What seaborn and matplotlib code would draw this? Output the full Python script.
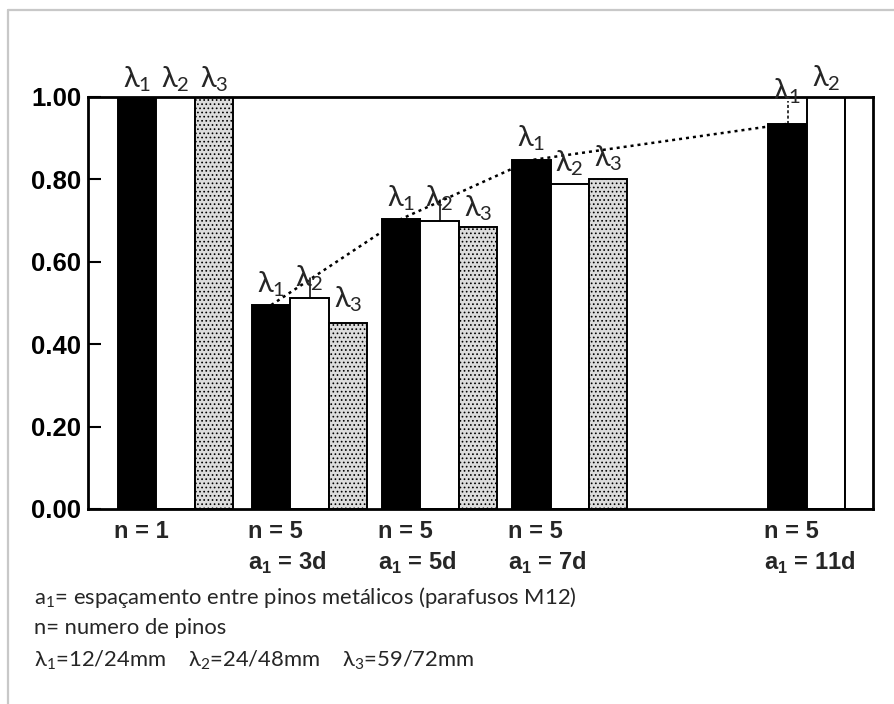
import numpy as np
import pandas as pd
import matplotlib
matplotlib.use("Agg")
import matplotlib.pyplot as plt
import seaborn as sns
from matplotlib.lines import Line2D

# ---------------- data ----------------
lambdas = ["λ1", "λ2", "λ3"]
lam1 = [1.00, 0.495, 0.704, 0.847, 0.935]
lam2 = [1.00, 0.512, 0.699, 0.789, 1.00]
lam3 = [1.00, 0.451, 0.684, 0.801, 1.00]
group_n = ["n = 1", "n = 5", "n = 5", "n = 5", "n = 5"]
group_a = ["", "3d", "5d", "7d", "11d"]
yticks = [0.0, 0.2, 0.4, 0.6, 0.8, 1.0]
ytick_labels = ["0.00", "0.20", "0.40", "0.60", "0.80", "1.00"]
legend_lines = [
    r"a$_\mathregular{1}$= espaçamento entre pinos metálicos (parafusos M12)",
    "n= numero de pinos",
    r"λ$_\mathregular{1}$=12/24mm    λ$_\mathregular{2}$=24/48mm    λ$_\mathregular{3}$=59/72mm",
]

# ---------------- layout ----------------
group_pos = [0.0, 1.03, 2.03, 3.03, 5.0]
label_show = [[1, 1, 1], [1, 1, 1], [1, 1, 1], [1, 1, 1], [1, 1, 0]]
label_off = [[3, 3, 3], [6, 5, 9], [6, 8, 4], [7, 6, 6], [18, 4, 0]]  # pixels

sns.set_theme(style="white")
plt.rcParams["mathtext.fontset"] = "custom"
plt.rcParams["mathtext.rm"] = "Lato"
plt.rcParams["hatch.linewidth"] = 0.7

W, H = 895, 704
fig = plt.figure(figsize=(W / 100, H / 100), dpi=100)
fig.patch.set_facecolor("white")
ax = fig.add_axes([88 / W, 1 - 509 / H, (873 - 88) / W, (509 - 97) / H])

df = pd.DataFrame({
    "pos": np.repeat(group_pos, 3),
    "lam": lambdas * len(group_pos),
    "val": np.ravel(np.column_stack([lam1, lam2, lam3])),
})
sns.barplot(data=df, x="pos", y="val", hue="lam", native_scale=True,
            width=0.885, gap=0, palette=["black", "white", "#dcdcdc"],
            edgecolor="black", linewidth=1.4, errorbar=None, legend=False,
            saturation=1, ax=ax)

for g, p in enumerate(ax.containers[2]):
    if g == 4:
        p.set_facecolor("white")  # last bar appears blank in the scan
    else:
        p.set_hatch("....")

ax.set_xlim(-0.673, 5.361)
ax.set_ylim(0, 1.0)
ax.set_xticks([])
ax.set_xlabel("")
ax.set_ylabel("")
ax.set_yticks(yticks)
ax.set_yticklabels(ytick_labels, fontsize=18.5, fontweight="bold",
                   family="Liberation Sans")
ax.tick_params(axis="y", direction="in", length=9, width=1.5, pad=5,
               left=True, colors="black")
for s in ax.spines.values():
    s.set_linewidth(2)
    s.set_color("black")

# lambda labels over bars
for h, cont in enumerate(ax.containers[:3]):
    for g, p in enumerate(cont):
        if not label_show[g][h]:
            continue
        xc = p.get_x() + p.get_width() / 2
        yt = p.get_height()
        ax.annotate(r"λ$_\mathregular{%d}$" % (h + 1), xy=(xc, yt),
                    xytext=(0, label_off[g][h]), textcoords="offset pixels",
                    ha="center", va="bottom", fontsize=21, family="Lato",
                    annotation_clip=False)


def bar(h, g):
    return ax.containers[h][g]


# leader lines
for h, g, top, ls in [(1, 1, 0.561, "-"), (1, 2, 0.750, "-"),
                      (0, 4, 0.99, (0, (2, 1.5)))]:
    p = bar(h, g)
    xc = p.get_x() + p.get_width() / 2
    ax.plot([xc, xc], [p.get_height(), top], color="black", lw=1.1, ls=ls)

# dotted trend line through lambda1 of the n=5 groups
xs = [bar(0, g).get_x() + bar(0, g).get_width() / 2 for g in range(1, 5)]
ys = [lam1[g] for g in range(1, 5)]
ax.plot(xs, ys, color="black", lw=1.8, ls=(0, (1.2, 1.6)))

# group labels (left aligned near the left edge of each group)
line1_y, line2_y = 531, 563
for g in range(5):
    p = bar(0, g)
    xpix = ax.transData.transform((p.get_x(), 0))[0] - 4
    fig.text(xpix / W, 1 - line1_y / H, group_n[g], ha="left", va="center",
             fontsize=17, fontweight="bold", family="Liberation Sans")
    if group_a[g]:
        fig.text(xpix / W, 1 - line2_y / H,
                 r"a$_\mathregular{1}$ = " + group_a[g], ha="left",
                 va="center", fontsize=17, fontweight="bold",
                 family="Liberation Sans")

# bottom legend text
texts = []
for line, yc in zip(legend_lines, [597, 628, 660]):
    t = fig.text(34 / W, 1 - yc / H, line, ha="left", va="center",
                 fontsize=15, family="Lato")
    texts.append(t)
fig.canvas.draw()
r = fig.canvas.get_renderer()
w0 = texts[0].get_window_extent(r).width
scale = 543 / w0
for t in texts:
    t.set_fontsize(15 * scale)

# light grey frame
fig.add_artist(Line2D([8 / W, 1], [1 - 10 / H, 1 - 10 / H],
                      transform=fig.transFigure, color="#c8c8c8", lw=1.6))
fig.add_artist(Line2D([8 / W, 8 / W], [0, 1 - 10 / H],
                      transform=fig.transFigure, color="#c8c8c8", lw=1.6))

fig.savefig("out.png", dpi=100)
